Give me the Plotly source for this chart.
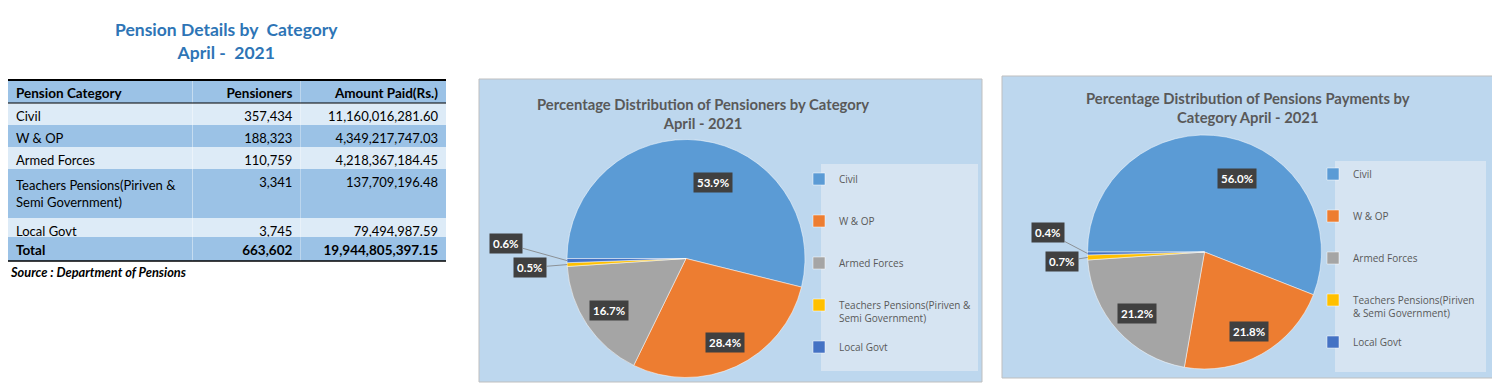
import math
import numpy as np
import plotly.graph_objects as go

# ---------------- data ----------------
categories = ["Civil", "W & OP", "Armed Forces",
              "Teachers Pensions(Piriven & Semi Government)", "Local Govt"]
table_labels = ["Civil", "W & OP", "Armed Forces",
                "Teachers Pensions(Piriven &<br>Semi Government)", "Local Govt"]
pensioners = [357434, 188323, 110759, 3341, 3745]
amount_paid = [11160016281.60, 4349217747.03, 4218367184.45, 137709196.48, 79494987.59]
table_header = ["Pension Category", "Pensioners", "Amount Paid(Rs.)"]
total_label = "Total"

legend1_labels = ["Civil", "W & OP", "Armed Forces",
                  "Teachers Pensions(Piriven &<br>Semi Government)", "Local Govt"]
legend2_labels = ["Civil", "W & OP", "Armed Forces",
                  "Teachers Pensions(Piriven<br>& Semi Government)", "Local Govt"]

table_title = "Pension Details by  Category<br>April -  2021"
chart1_title = "Percentage Distribution of Pensioners by Category<br>April - 2021"
chart2_title = "Percentage Distribution of Pensions Payments by<br>Category April - 2021"
source_text = "Source : Department of Pensions"

# ---------------- style ----------------
W, H = 1500, 387
OFF = 8  # page body margin of the html page
FONT = "Lato"
LEG_FONT = "Open Sans"
slice_colors = ["#5B9BD5", "#ED7D31", "#A5A5A5", "#FFC000", "#4472C4"]
panel_bg = "#BDD7EE"
legend_bg = "#D6E4F2"
title_blue = "#2E75B6"
grey_text = "#595959"
light_row = "#DDEBF7"
mid_row = "#9BC2E6"
NBSP = "\u00a0"


def plain(s):
    # non-breaking spaces keep plotly's table rows at their declared height
    return s.replace(" ", NBSP)


def pad_label(s, lines=3, tail=""):
    n = s.count("<br>") + 1
    return s + "<br>&nbsp;" * (lines - n) + tail


def px(x):
    return min(1.0, max(0.0, (x - OFF) / W))


def py(y):
    return min(1.0, max(0.0, (H - (y - OFF)) / H))


fig = go.Figure()

# ---------------- table ----------------
n_rows = len(categories)
col_int = [f"{v:,}" for v in pensioners]
col_amt = [f"{v:,.2f}" for v in amount_paid]
# labels with line breaks go through the value (markup), the others as plain prefix text
col_cat_vals, col_cat_prefix = [], []
for s in table_labels:
    if "<br>" in s:
        col_cat_vals.append("<br>".join(plain(p.replace("&", "&amp;")) for p in s.split("<br>")))
        col_cat_prefix.append("")
    else:
        col_cat_vals.append("")
        col_cat_prefix.append(plain(s))
prefix_grid = np.array([col_cat_prefix, [""] * n_rows, [""] * n_rows], dtype="U80")
row_fill = [light_row, mid_row, light_row, mid_row, light_row]

fig.add_trace(go.Table(
    domain=dict(x=[px(7), px(446)], y=[0, py(80)]),
    columnwidth=[185, 108, 146],
    header=dict(
        values=[plain(h) for h in table_header],
        align=["left", "right", "right"],
        fill_color=mid_row,
        line=dict(color=mid_row, width=0),
        font=dict(family=FONT, size=13.5, color="black", weight="bold"),
        height=23,
    ),
    cells=dict(
        values=[col_cat_vals, col_int, col_amt],
        prefix=prefix_grid,
        align=["left", "right", "right"],
        fill_color=[row_fill] * 3,
        line=dict(color=[row_fill] * 3, width=0),
        font=dict(family=FONT, size=13, color="black"),
        height=22,
    ),
))

# total row (bold) as a header-only table placed right below
fig.add_trace(go.Table(
    domain=dict(x=[px(7), px(446)], y=[0, py(237)]),
    columnwidth=[185, 108, 146],
    header=dict(
        values=[plain(total_label), f"{sum(pensioners):,}", f"{sum(amount_paid):,.2f}"],
        align=["left", "right", "right"],
        fill_color=mid_row,
        line=dict(color=mid_row, width=0),
        font=dict(family=FONT, size=13.5, color="black", weight="bold"),
        height=24,
    ),
    cells=dict(
        values=[[""], [""], [""]],
        fill_color="rgba(0,0,0,0)",
        line=dict(color="rgba(0,0,0,0)", width=0),
        height=10,
    ),
))

# ---------------- pies ----------------
pies = [
    dict(values=pensioners, cx=686, cy=258.5, r=119, legend="legend",
         labels=[pad_label(s) for s in legend1_labels],
         small_offsets=[(-37, 3), (-61, -17)]),
    dict(values=amount_paid, cx=1204.5, cy=252, r=117, legend="legend2",
         labels=[pad_label(s, tail="&nbsp;") for s in legend2_labels],
         small_offsets=[(-26, 4), (-40, -21)]),
]

label_frac = [0.70, 0.78, 0.78]
label_nudge = [(17, -7), (0, 0), (0, 0)]

annotations = []
for p in pies:
    vals = p["values"]
    tot = sum(vals)
    cx, cy, r = p["cx"], p["cy"], p["r"]
    fig.add_trace(go.Pie(
        labels=p["labels"],
        values=vals,
        sort=False,
        direction="clockwise",
        rotation=270,
        marker=dict(colors=slice_colors, line=dict(color="white", width=0.5)),
        textinfo="none",
        hoverinfo="percent",
        domain=dict(x=[px(cx - r), px(cx + r)], y=[py(cy + r), py(cy - r)]),
        legend=p["legend"],
        showlegend=True,
    ))
    start = 270.0
    mids = []
    for v in vals:
        span = v / tot * 360
        mids.append(start + span / 2)
        start += span
    for i, (v, m) in enumerate(zip(vals, mids)):
        t = math.radians(m)
        txt = f"{v / tot * 100:.1f}%"
        box = dict(text=txt, font=dict(family=FONT, size=11.5, color="white", weight="bold"),
                   bgcolor="#404040", borderpad=3, xref="paper", yref="paper",
                   xanchor="center", yanchor="middle")
        if i < 3:
            f = label_frac[i]
            x = cx + f * r * math.sin(t)
            y = cy - f * r * math.cos(t)
            box.update(x=px(x), y=py(y), showarrow=False,
                       xshift=label_nudge[i][0], yshift=label_nudge[i][1])
        else:
            x = cx + r * math.sin(t)
            y = cy - r * math.cos(t)
            ax, ay = p["small_offsets"][i - 3]
            box.update(x=px(x), y=py(y), showarrow=True, arrowhead=0, arrowwidth=0.8,
                       arrowcolor="#7F7F7F", ax=ax, ay=ay, standoff=0)
        annotations.append(box)

# ---------------- titles / texts ----------------
annotations += [
    dict(text=f"<b>{table_title}</b>", x=px(226), y=py(41.5), xref="paper", yref="paper",
         xanchor="center", yanchor="middle",
         showarrow=False, font=dict(family=FONT, size=17.5, color=title_blue),
         align="center"),
    dict(text=f"<b><i>{source_text}</i></b>", x=px(8), y=py(272), xref="paper", yref="paper",
         xanchor="left", yanchor="middle",
         showarrow=False, font=dict(family=FONT, size=12.8, color="black")),
    dict(text=f"<b>{chart1_title}</b>", x=px(703), y=py(113), xref="paper", yref="paper",
         xanchor="center", yanchor="middle",
         showarrow=False, font=dict(family=FONT, size=14.8, color=grey_text), align="center"),
    dict(text=f"<b>{chart2_title}</b>", x=px(1248), y=py(107), xref="paper", yref="paper",
         xanchor="center", yanchor="middle",
         showarrow=False, font=dict(family=FONT, size=14.8, color=grey_text), align="center"),
]

shapes = [
    # panels
    dict(type="rect", xref="paper", yref="paper", x0=px(479), x1=px(982), y0=py(382), y1=py(79),
         fillcolor=panel_bg, line=dict(color="#BFBFBF", width=1), layer="below"),
    dict(type="rect", xref="paper", yref="paper", x0=px(1002), x1=px(1494), y0=py(378), y1=py(76),
         fillcolor=panel_bg, line=dict(color="#BFBFBF", width=1), layer="below"),
    # legend boxes
    dict(type="rect", xref="paper", yref="paper", x0=px(821), x1=px(978), y0=py(371), y1=py(164),
         fillcolor=legend_bg, line=dict(width=0), layer="below"),
    dict(type="rect", xref="paper", yref="paper", x0=px(1335), x1=px(1486), y0=py(372), y1=py(161),
         fillcolor=legend_bg, line=dict(width=0), layer="below"),
    # table rules
    dict(type="line", xref="paper", yref="paper", x0=px(7), x1=px(446), y0=py(80), y1=py(80),
         line=dict(color="black", width=2)),
    dict(type="line", xref="paper", yref="paper", x0=px(7), x1=px(446), y0=py(103), y1=py(103),
         line=dict(color="black", width=1)),
    dict(type="line", xref="paper", yref="paper", x0=px(7), x1=px(446), y0=py(261), y1=py(261),
         line=dict(color="black", width=1.5)),
]

legend_common = dict(
    bgcolor="rgba(0,0,0,0)", borderwidth=0, valign="top",
    font=dict(family=LEG_FONT, size=10, color=grey_text),
    yanchor="top", xanchor="left", itemclick=False, itemdoubleclick=False,
)

fig.update_layout(
    width=W, height=H,
    margin=dict(l=0, r=0, t=0, b=0),
    paper_bgcolor="white",
    plot_bgcolor="white",
    annotations=annotations,
    shapes=shapes,
    legend=dict(x=px(799), y=py(166), **legend_common),
    legend2=dict(x=px(1313), y=py(161), **legend_common),
)

fig.write_html("out.html")
